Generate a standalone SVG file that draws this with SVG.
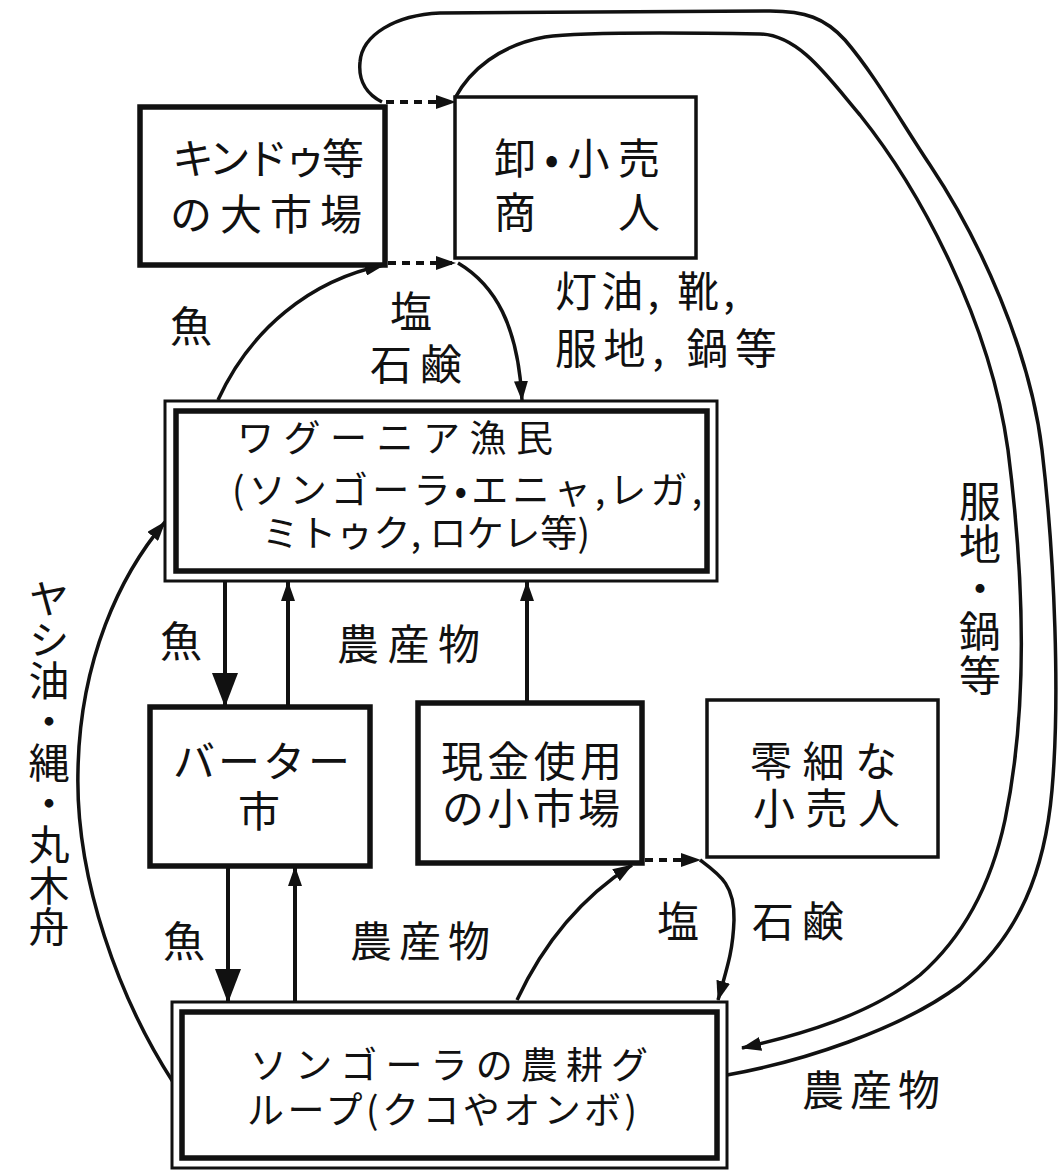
<svg xmlns="http://www.w3.org/2000/svg" width="1060" height="1174" viewBox="0 0 1060 1174">
<style>
.box{fill:#fff;stroke:#111}
.thick{stroke-width:5.5}
.thin{stroke-width:3.5}
.dblo{fill:#fff;stroke:#111;stroke-width:3}
.dbli{fill:none;stroke:#111;stroke-width:5.5}
.t{font-family:"Noto Sans CJK JP","Noto Sans CJK SC",sans-serif;fill:#111;font-size:42px}
.tc{font-size:37px}
.vt{writing-mode:vertical-rl}
.ln{fill:none;stroke:#111;stroke-width:3.5}
.vl{fill:none;stroke:#111;stroke-width:4}
.dot{stroke-dasharray:8 6;stroke-width:4}
</style>
<defs>
<marker id="ah" markerUnits="userSpaceOnUse" markerWidth="20" markerHeight="14" refX="19" refY="7" orient="auto"><path d="M0,0 L20,7 L0,14 Z" fill="#111"/></marker>
<marker id="ahb" markerUnits="userSpaceOnUse" markerWidth="34" markerHeight="26" refX="33" refY="13" orient="auto"><path d="M0,0 L34,13 L0,26 Z" fill="#111"/></marker>
</defs>
<rect width="1060" height="1174" fill="#fff"/>

<g id="connectors">
  <path class="ln" d="M727,1075 C800,1062 900,1030 960,985 C1020,935 1045,870 1052,790 C1060,700 1055,560 1042,450 C1030,350 980,240 930,165 C900,120 875,75 845,40 C825,18 805,11 770,11 L440,13 C395,15 362,35 360,62 C358,82 368,95 382,102"/>
  <path class="ln dot" d="M386,102 L455,102" marker-end="url(#ah)"/>
  <path class="ln" d="M455,98 C470,70 500,45 545,37 C580,32 700,33 760,34 C800,35 830,80 860,115 C920,190 990,320 1008,450 C1022,560 1030,700 1005,820 C990,890 960,940 920,975 C870,1015 800,1035 742,1048" marker-end="url(#ah)"/>
  <path class="ln" d="M218,400 C250,330 310,280 384,265" marker-end="url(#ah)"/>
  <path class="ln dot" d="M388,263 L455,263" marker-end="url(#ah)"/>
  <path class="ln" d="M458,263 C495,285 518,325 522,400" marker-end="url(#ah)"/>
  <path class="vl" d="M225,581 L225,706" marker-end="url(#ahb)"/>
  <path class="vl" d="M288,707 L288,582" marker-end="url(#ah)"/>
  <path class="vl" d="M527,703 L527,582" marker-end="url(#ah)"/>
  <path class="vl" d="M228,866 L228,1002" marker-end="url(#ahb)"/>
  <path class="vl" d="M295,1002 L295,867" marker-end="url(#ah)"/>
  <path class="ln" d="M173,1082 C120,1000 75,880 78,770 C80,660 120,575 165,522" marker-end="url(#ah)"/>
  <path class="ln" d="M517,1000 C545,940 585,895 632,865" marker-end="url(#ah)"/>
  <path class="ln dot" d="M645,860 L700,860" marker-end="url(#ah)"/>
  <path class="ln" d="M700,860 C720,875 735,885 734,920 C733,950 728,965 718,1000" marker-end="url(#ah)"/>
</g>

<g id="node-big-market">
  <rect class="box thick" x="140" y="107" width="245" height="158"/>
  <text class="t"><tspan x="172" y="174" textLength="192" lengthAdjust="spacing">キンドゥ等</tspan><tspan x="170" y="230" textLength="192" lengthAdjust="spacing">の大市場</tspan></text>
</g>

<g id="node-merchants">
  <rect class="box thin" x="455" y="97" width="241" height="161"/>
  <text class="t"><tspan x="494" y="174" textLength="166" lengthAdjust="spacing">卸•小売</tspan><tspan x="494" y="228" textLength="166" lengthAdjust="spacing">商　人</tspan></text>
</g>

<g id="node-fishers">
  <rect class="dblo" x="165" y="401" width="552" height="180"/>
  <rect class="dbli" x="176" y="411" width="531" height="160"/>
  <text class="t tc"><tspan x="237" y="452" textLength="316" lengthAdjust="spacing">ワグーニア漁民</tspan><tspan x="232" y="504" textLength="470" lengthAdjust="spacing">(ソンゴーラ•エニャ,レガ,</tspan><tspan x="262" y="547" textLength="328" lengthAdjust="spacing">ミトゥク, ロケレ等)</tspan></text>
</g>

<g id="node-barter">
  <rect class="box thick" x="150" y="707" width="220" height="159"/>
  <text class="t"><tspan x="173" y="777" textLength="177" lengthAdjust="spacing">バーター</tspan><tspan x="238" y="827">市</tspan></text>
</g>

<g id="node-cash-market">
  <rect class="box thick" x="418" y="703" width="224" height="160"/>
  <text class="t"><tspan x="441" y="777" textLength="181" lengthAdjust="spacing">現金使用</tspan><tspan x="442" y="824" textLength="178" lengthAdjust="spacing">の小市場</tspan></text>
</g>

<g id="node-small-retailers">
  <rect class="box thin" x="707" y="700" width="231" height="157"/>
  <text class="t"><tspan x="750" y="777" textLength="147" lengthAdjust="spacing">零細な</tspan><tspan x="753" y="824" textLength="147" lengthAdjust="spacing">小売人</tspan></text>
</g>

<g id="node-farmers">
  <rect class="dblo" x="172" y="1002" width="555" height="166"/>
  <rect class="dbli" x="182" y="1012" width="535" height="146"/>
  <text class="t tc"><tspan x="250" y="1079" textLength="398" lengthAdjust="spacing">ソンゴーラの農耕グ</tspan><tspan x="247" y="1124" textLength="390" lengthAdjust="spacing">ループ(クコやオンボ)</tspan></text>
</g>

<g id="labels">
  <text class="t" x="170" y="342">魚</text>
  <text class="t"><tspan x="390" y="327">塩</tspan><tspan x="370" y="380" textLength="92" lengthAdjust="spacing">石鹸</tspan></text>
  <text class="t"><tspan x="555" y="307" textLength="180" lengthAdjust="spacing">灯油, 靴,</tspan><tspan x="555" y="364" textLength="222" lengthAdjust="spacing">服地, 鍋等</tspan></text>
  <text class="t" x="160" y="657">魚</text>
  <text class="t" x="337" y="660" textLength="143" lengthAdjust="spacing">農産物</text>
  <text class="t" x="163" y="957">魚</text>
  <text class="t" x="350" y="957" textLength="140" lengthAdjust="spacing">農産物</text>
  <text class="t" x="657" y="937">塩</text>
  <text class="t" x="752" y="937" textLength="92" lengthAdjust="spacing">石鹸</text>
  <text class="t" x="802" y="1106" textLength="138" lengthAdjust="spacing">農産物</text>
  <text class="t vt" x="49" y="578" style="font-size:41px">ヤシ油・縄・丸木舟</text>
  <text class="t vt" x="980" y="480" style="letter-spacing:1.5px">服地・鍋等</text>
</g>
</svg>
